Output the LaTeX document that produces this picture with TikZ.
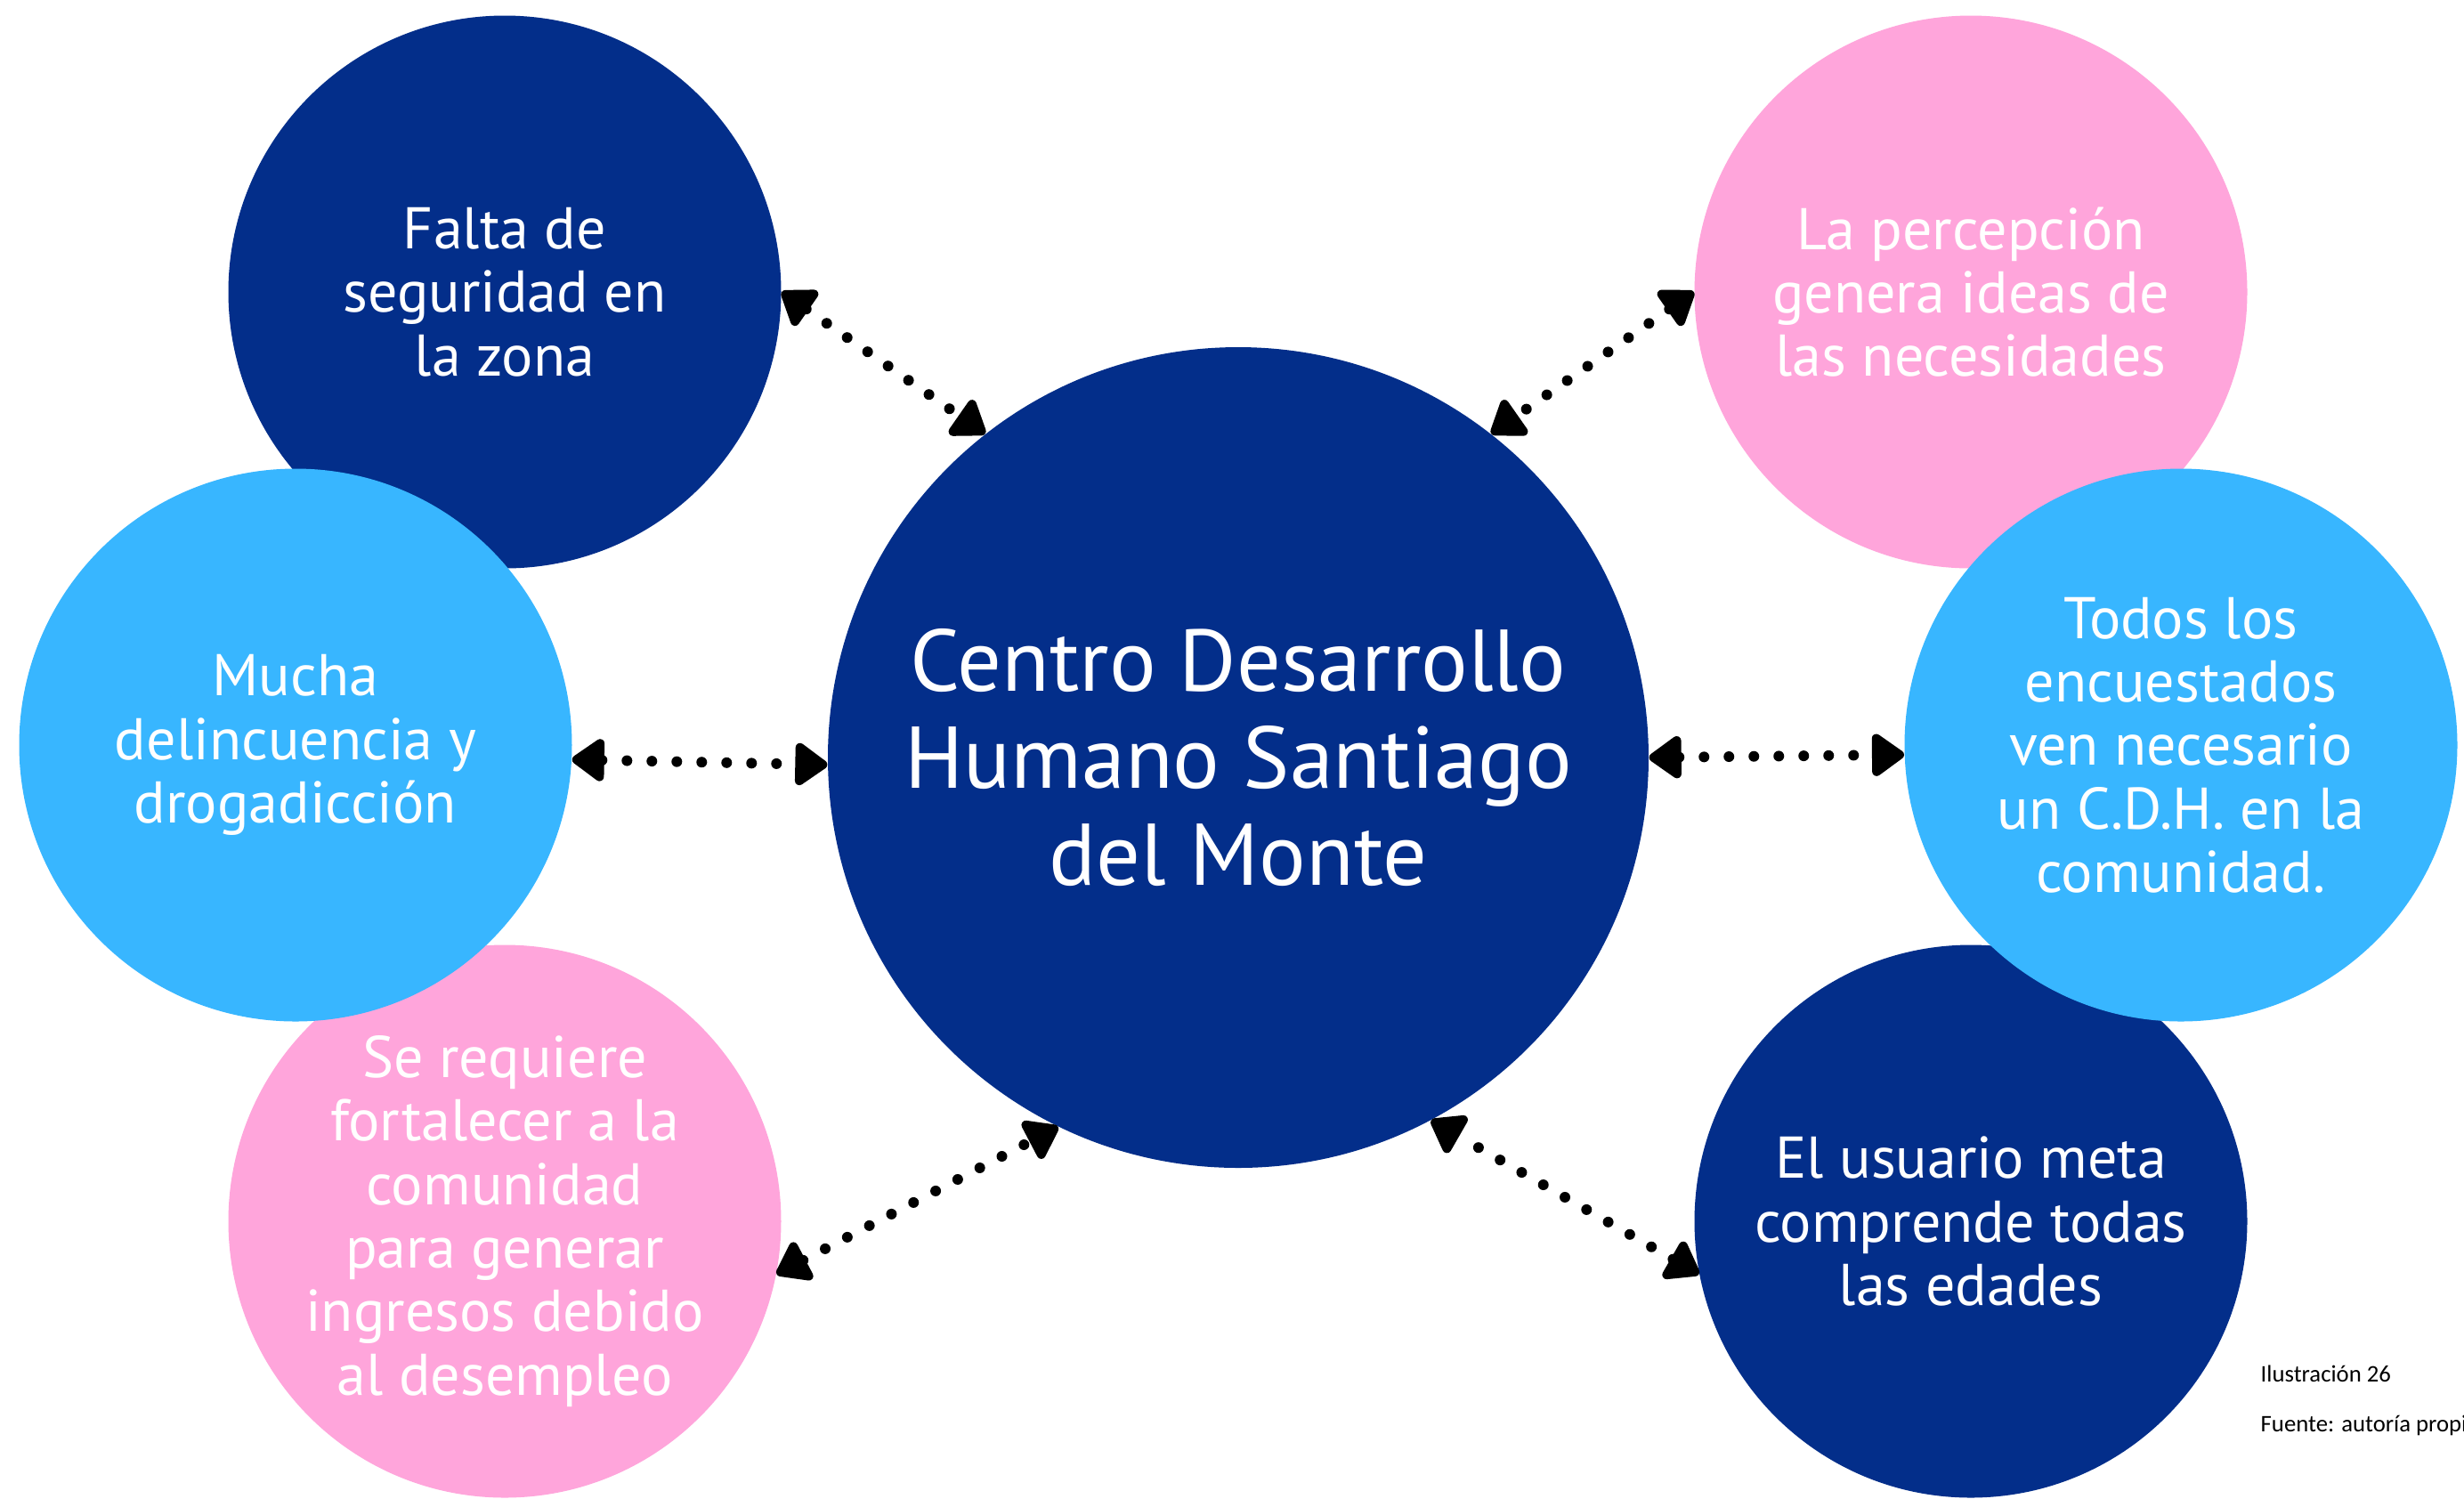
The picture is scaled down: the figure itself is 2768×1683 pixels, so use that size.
\documentclass[tikz,border=0pt]{standalone}
\usepackage{fontspec}
\setmainfont{PT Sans}
\newfontfamily\capfont{Carlito}
\usetikzlibrary{arrows.meta}
\definecolor{navy}{HTML}{032E8A}
\definecolor{sky}{HTML}{38B6FF}
\definecolor{rosa}{HTML}{FFA5DB}
\begin{document}
\begin{tikzpicture}[x=0.1mm,y=-0.1mm,
  bubble/.style={circle, inner sep=0pt, minimum size=62.1mm, text=white, align=center,
    font=\fontsize{18.8}{20.3}\selectfont},
  hub/.style={circle, fill=navy, inner sep=0pt, minimum size=92.2mm, text=white, align=center,
    font=\fontsize{28}{31}\selectfont},
  link/.style={line width=1.2mm, dash pattern=on 0pt off 2.8mm, line cap=round,
    {Triangle[length=4mm,width=5.4mm,round]}-{Triangle[length=4mm,width=5.4mm,round]}},
  note/.style={anchor=base west, inner sep=0pt, font=\capfont\fontsize{7.6}{9}\selectfont}
]
\useasboundingbox (0,0) rectangle (2768,1683);
\clip (0,0) rectangle (2768,1683);

\node[bubble, fill=navy] (tl) at (567,328) {Falta de\\seguridad en\\la zona};
\node[bubble, fill=rosa] (tr) at (2214,328) {La percepción\\genera ideas de\\las necesidades};
\node[bubble, fill=rosa] (bl) at (567,1372) {Se requiere\\fortalecer a la\\comunidad\\para generar\\ingresos debido\\al desempleo};
\node[bubble, fill=navy] (br) at (2214,1372) {El usuario meta\\comprende todas\\las edades};
\node[bubble, fill=sky] (ml) at (332,837) {Mucha\\delincuencia y\\drogadicción};
\node[bubble, fill=sky] (mr) at (2450,837) {Todos los\\encuestados\\ven necesario\\un C.D.H. en la\\comunidad.};

\node[hub] (c) at (1391,851) {Centro Desarrollo\\Humano Santiago\\del Monte};

\draw[link] (tl.0) -- (c.128);
\draw[link] (tr.180) -- (c.52);
\draw[link] (ml.-3) -- (c.181);
\draw[link] (c.0) -- (mr.182);
\draw[link] (bl.-11) -- (c.244);
\draw[link] (br.191) -- (c.-62);

\node[note] (cap1) at (2539,1552) {Ilustración 26};
\node[note] (cap2) at (2539,1608) {Fuente: autoría propia};
\end{tikzpicture}
\end{document}
